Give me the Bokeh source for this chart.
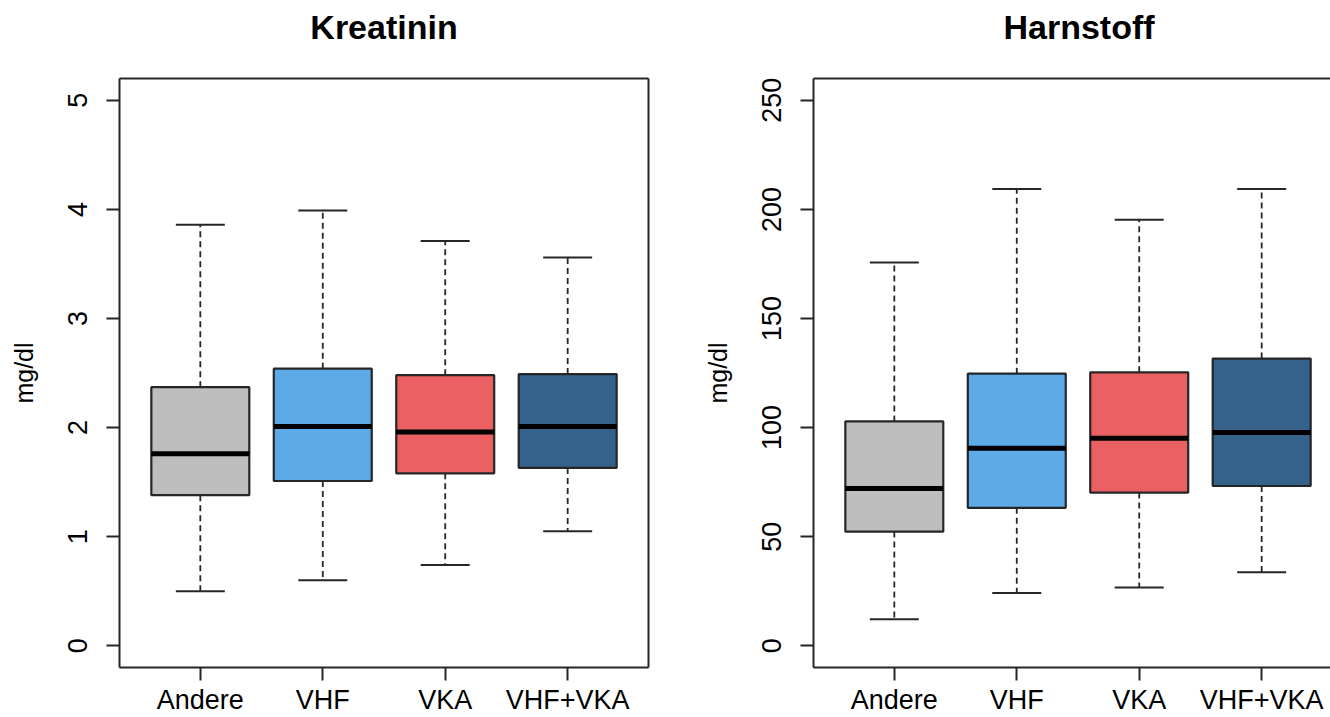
import numpy as np
from bokeh.plotting import figure
from bokeh.layouts import row
from bokeh.models import Range1d, FixedTicker, LinearAxis, ColumnDataSource
from bokeh.embed import file_html
from bokeh.resources import INLINE

# Groups and box colours
groups = ["Andere", "VHF", "VKA", "VHF+VKA"]
colors = ["#BEBEBE", "#5DAAE9", "#EB6063", "#35628A"]

# Kreatinin (mg/dl) five-number summaries
kreat_lower = [0.50, 0.60, 0.74, 1.05]
kreat_q1 = [1.38, 1.51, 1.58, 1.63]
kreat_median = [1.76, 2.01, 1.96, 2.01]
kreat_q3 = [2.37, 2.54, 2.48, 2.49]
kreat_upper = [3.86, 3.99, 3.71, 3.56]
kreat_ticks = [0, 1, 2, 3, 4, 5]

# Harnstoff (mg/dl) five-number summaries
harn_lower = [12.1, 24.2, 26.7, 33.7]
harn_q1 = [52.3, 63.2, 70.2, 73.2]
harn_median = [72.1, 90.5, 95.1, 97.7]
harn_q3 = [102.8, 124.7, 125.3, 131.6]
harn_upper = [175.6, 209.3, 195.2, 209.3]
harn_ticks = [0, 50, 100, 150, 200, 250]

FONT = "Liberation Sans"
LINE = "#262626"
PX_PER_UNIT = 529 / 4.32
BOX_HALF = 0.4
STAPLE_HALF = 0.2


def bare_axis(spacer=False):
    # a plain frame edge: line only, no ticks or labels
    ax = LinearAxis(ticker=FixedTicker(ticks=[]), major_label_text_font_size="0px",
                    major_label_standoff=0, axis_label_standoff=0,
                    major_tick_out=0, major_tick_in=0,
                    axis_line_color=LINE, axis_line_width=2,
                    major_tick_line_color=None, minor_tick_line_color=None)
    if spacer:
        # blank label keeps the title clear of the frame
        ax.axis_label = " "
        ax.axis_label_text_font_size = "20px"
        ax.axis_label_standoff = 3
    return ax


def boxpanel(title, lower, q1, med, q3, upper, ticks, frame_w, x_end,
             border_left, border_right, title_offset=None):
    xs = np.arange(1, len(groups) + 1)
    lo_y = ticks[0] - 0.04 * (ticks[-1] - ticks[0])
    hi_y = ticks[-1] + 0.04 * (ticks[-1] - ticks[0])
    p = figure(frame_width=frame_w, frame_height=589,
               x_range=Range1d(0.34, x_end), y_range=Range1d(lo_y, hi_y),
               min_border_left=border_left, min_border_right=border_right,
               min_border_top=78, min_border_bottom=50,
               toolbar_location=None, output_backend="svg",
               background_fill_color="white", border_fill_color="white")
    p.outline_line_color = None
    p.grid.visible = False

    p.title.text = title
    if title_offset is None:
        p.title.align = "center"
    else:
        p.title.align = "left"
        p.title.offset = title_offset
    p.title.text_font = FONT
    p.title.text_font_size = "34px"
    p.title.text_font_style = "bold"
    p.title.text_color = "black"
    p.title.text_line_height = 1.0
    p.title.standoff = 10

    src = ColumnDataSource(dict(
        x=xs, lower=lower, q1=q1, med=med, q3=q3, upper=upper, color=colors,
        bl=xs - BOX_HALF, br=xs + BOX_HALF,
        sl=xs - STAPLE_HALF, sr=xs + STAPLE_HALF))

    # whiskers
    p.segment(x0="x", y0="q3", x1="x", y1="upper", source=src,
              line_color=LINE, line_width=1.8, line_dash="6 4")
    p.segment(x0="x", y0="q1", x1="x", y1="lower", source=src,
              line_color=LINE, line_width=1.8, line_dash="6 4")
    # staples
    p.segment(x0="sl", y0="upper", x1="sr", y1="upper", source=src,
              line_color=LINE, line_width=2)
    p.segment(x0="sl", y0="lower", x1="sr", y1="lower", source=src,
              line_color=LINE, line_width=2)
    # boxes
    p.quad(left="bl", right="br", bottom="q1", top="q3", source=src,
           fill_color="color", line_color=LINE, line_width=2.2)
    # medians
    p.segment(x0="bl", y0="med", x1="br", y1="med", source=src,
              line_color="black", line_width=5)

    # x axis
    xa = p.xaxis[0]
    xa.ticker = FixedTicker(ticks=list(xs))
    xa.major_label_overrides = {int(x): g for x, g in zip(xs, groups)}
    # y axis
    ya = p.yaxis[0]
    ya.ticker = FixedTicker(ticks=ticks)
    ya.major_label_orientation = "vertical"
    ya.axis_label = "mg/dl"
    ya.axis_label_text_font = FONT
    ya.axis_label_text_font_size = "25px"
    ya.axis_label_text_font_style = "normal"
    ya.axis_label_text_color = "black"
    ya.axis_label_standoff = 28
    for ax in (xa, ya):
        ax.axis_line_color = LINE
        ax.axis_line_width = 2
        ax.major_tick_line_color = LINE
        ax.major_tick_line_width = 2
        ax.major_tick_in = 0
        ax.major_tick_out = 13
        ax.minor_tick_line_color = None
        ax.major_label_text_font = FONT
        ax.major_label_text_font_size = "27px"
        ax.major_label_text_color = "black"
    xa.major_label_standoff = 4
    ya.major_label_standoff = 19

    p.add_layout(bare_axis(spacer=True), "above")
    if x_end > 4.6:
        p.add_layout(bare_axis(), "right")
    return p


left = boxpanel("Kreatinin", kreat_lower, kreat_q1, kreat_median, kreat_q3,
                kreat_upper, kreat_ticks, 529, 4.66, 119, 40)
right_w = 1330 - 688 - 125
right = boxpanel("Harnstoff", harn_lower, harn_q1, harn_median, harn_q3,
                 harn_upper, harn_ticks, right_w, 0.34 + right_w / PX_PER_UNIT,
                 125, 0, title_offset=190)

layout = row(left, right)
html = file_html(layout, INLINE)
html = html.replace("<head>", "<head><style>html,body{margin:0;padding:0;overflow:hidden;}</style>", 1)
open("out.html", "w").write(html)
